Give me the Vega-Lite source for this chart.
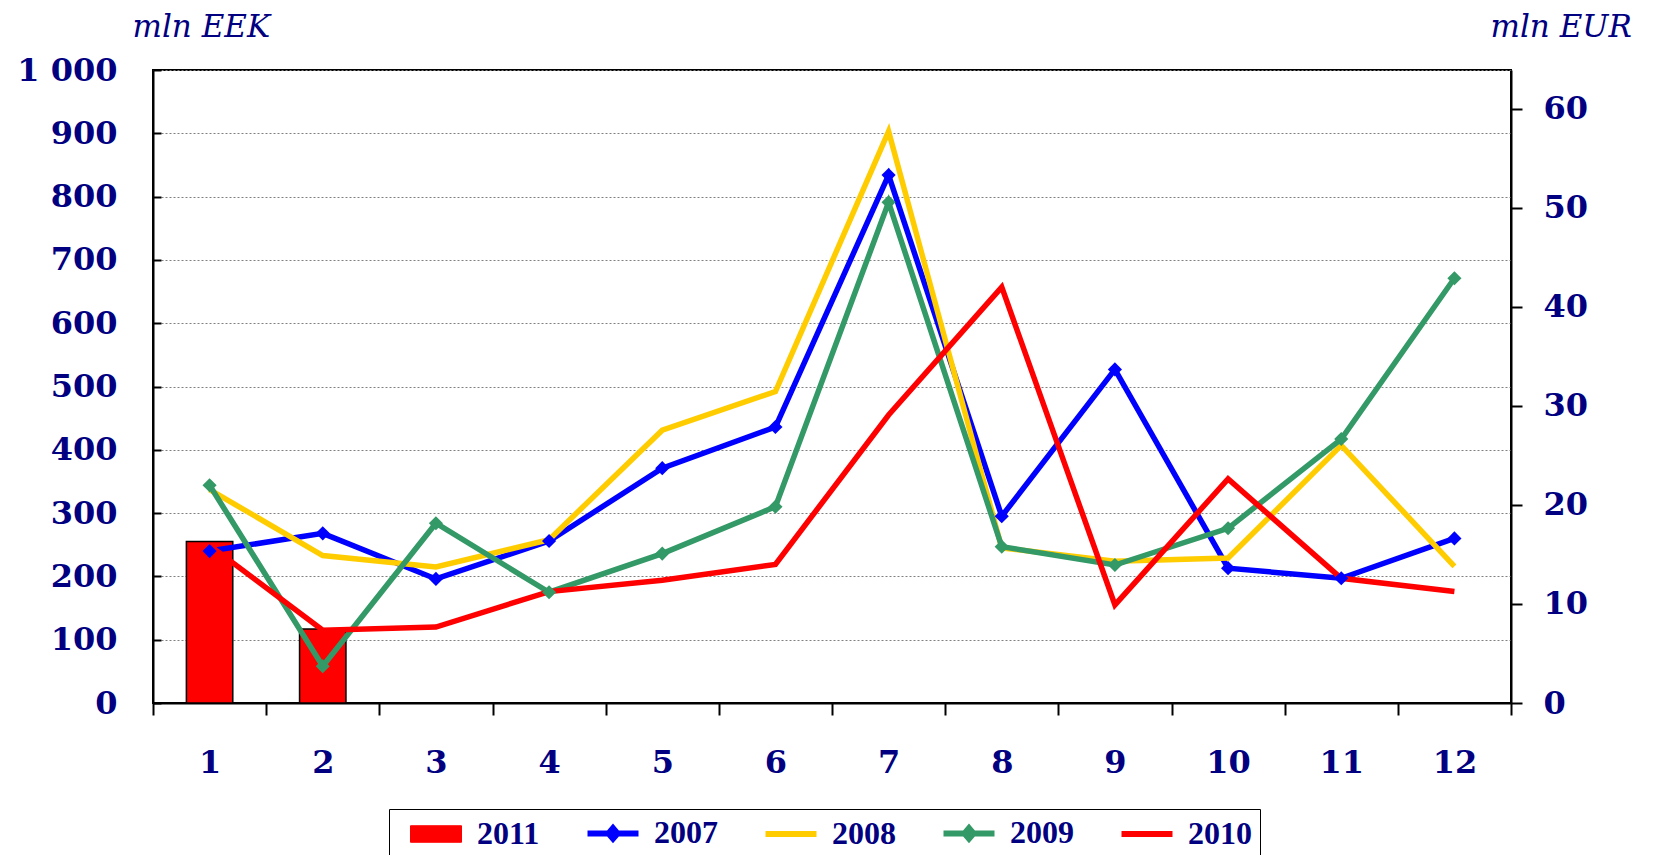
{
  "$schema": "https://vega.github.io/schema/vega-lite/v6.json",
  "autosize": {"type": "none"},
  "width": 1358,
  "height": 633,
  "padding": {"left": 153, "top": 70, "right": 143, "bottom": 152},
  "background": "white",
  "config": {
    "view": {"stroke": "#000000", "strokeWidth": 2},
    "axis": {
      "labelFont": "DejaVu Serif",
      "labelFontWeight": "bold",
      "labelColor": "#000080",
      "labelFontSize": 32,
      "domainColor": "#000000",
      "domainWidth": 2,
      "tickColor": "#000000",
      "tickWidth": 2
    }
  },
  "datasets": {
    "lines": [
      {"month": 1, "year": "2007", "value": 240},
      {"month": 2, "year": "2007", "value": 268},
      {"month": 3, "year": "2007", "value": 196},
      {"month": 4, "year": "2007", "value": 256},
      {"month": 5, "year": "2007", "value": 371},
      {"month": 6, "year": "2007", "value": 436},
      {"month": 7, "year": "2007", "value": 834},
      {"month": 8, "year": "2007", "value": 295},
      {"month": 9, "year": "2007", "value": 527},
      {"month": 10, "year": "2007", "value": 213},
      {"month": 11, "year": "2007", "value": 197},
      {"month": 12, "year": "2007", "value": 260},
      {"month": 1, "year": "2008", "value": 337},
      {"month": 2, "year": "2008", "value": 233},
      {"month": 3, "year": "2008", "value": 215},
      {"month": 4, "year": "2008", "value": 258},
      {"month": 5, "year": "2008", "value": 431},
      {"month": 6, "year": "2008", "value": 492},
      {"month": 7, "year": "2008", "value": 903},
      {"month": 8, "year": "2008", "value": 245},
      {"month": 9, "year": "2008", "value": 224},
      {"month": 10, "year": "2008", "value": 229},
      {"month": 11, "year": "2008", "value": 407},
      {"month": 12, "year": "2008", "value": 216},
      {"month": 1, "year": "2009", "value": 344},
      {"month": 2, "year": "2009", "value": 58},
      {"month": 3, "year": "2009", "value": 284},
      {"month": 4, "year": "2009", "value": 175},
      {"month": 5, "year": "2009", "value": 236},
      {"month": 6, "year": "2009", "value": 310},
      {"month": 7, "year": "2009", "value": 791},
      {"month": 8, "year": "2009", "value": 247},
      {"month": 9, "year": "2009", "value": 218},
      {"month": 10, "year": "2009", "value": 276},
      {"month": 11, "year": "2009", "value": 417},
      {"month": 12, "year": "2009", "value": 671},
      {"month": 1, "year": "2010", "value": 249},
      {"month": 2, "year": "2010", "value": 115},
      {"month": 3, "year": "2010", "value": 120},
      {"month": 4, "year": "2010", "value": 176},
      {"month": 5, "year": "2010", "value": 194},
      {"month": 6, "year": "2010", "value": 219},
      {"month": 7, "year": "2010", "value": 455},
      {"month": 8, "year": "2010", "value": 657},
      {"month": 9, "year": "2010", "value": 155},
      {"month": 10, "year": "2010", "value": 354},
      {"month": 11, "year": "2010", "value": 197},
      {"month": 12, "year": "2010", "value": 176}
    ],
    "bars": [
      {"month": 1, "year": "2011", "value": 255},
      {"month": 2, "year": "2011", "value": 117}
    ]
  },
  "layer": [
    {
      "layer": [
        {
          "data": {"name": "bars"},
          "mark": {"type": "bar", "width": {"band": 0.41}, "stroke": "#000000", "strokeWidth": 1.5},
          "encoding": {
            "x": {
              "field": "month", "type": "ordinal",
              "scale": {"domain": [1,2,3,4,5,6,7,8,9,10,11,12], "paddingInner": 0, "paddingOuter": 0},
              "axis": {"orient": "bottom", "title": null, "labelAngle": 0, "tickBand": "extent", "tickSize": 12, "labelPadding": 32, "grid": false}
            },
            "y": {
              "field": "value", "type": "quantitative",
              "scale": {"domain": [0, 1000], "nice": false},
              "axis": {
                "orient": "left",
                "values": [0,100,200,300,400,500,600,700,800,900,1000],
                "labelExpr": "datum.value >= 1000 ? '1 000' : datum.value + ''",
                "grid": true, "gridColor": "#808080", "gridDash": [2, 2], "gridWidth": 1,
                "tickSize": -8, "labelPadding": 44,
                "title": "mln EEK", "titleAngle": 0, "titleAlign": "left", "titleBaseline": "alphabetic",
                "titleX": -21, "titleY": -34,
                "titleFont": "DejaVu Serif", "titleFontStyle": "italic", "titleFontWeight": "normal",
                "titleFontSize": 31, "titleColor": "#000080"
              }
            },
            "color": {
              "field": "year", "type": "nominal",
              "scale": {"domain": ["2011","2007","2008","2009","2010"], "range": ["#FF0000","#0000FF","#FFCC00","#339966","#FF0000"]},
              "legend": {
                "title": null, "orient": "none", "legendX": 236, "legendY": 739, "direction": "horizontal",
                "strokeColor": "#000000", "fillColor": "#FFFFFF", "padding": 8,
                "labelFont": "Liberation Serif", "labelFontWeight": "bold", "labelFontSize": 32, "labelColor": "#000080",
                "symbolSize": 900, "symbolOffset": 23, "labelOffset": 25, "columnPadding": 34,
                "symbolType": {"expr": "datum.value === '2011' ? 'M-1.7,-0.55H1.7V0.55H-1.7Z' : (datum.value === '2007' || datum.value === '2009') ? 'M-1.7,0H1.7M0,-0.35L0.3,0L0,0.35L-0.3,0Z' : 'M-1.7,0H1.7'"},
                "symbolStrokeWidth": {"expr": "datum.value === '2011' ? 1 : 6"},
                "symbolOpacity": 1
              }
            }
          }
        },
        {
          "data": {"name": "lines"},
          "mark": {"type": "line", "strokeWidth": 5.5},
          "encoding": {
            "x": {"field": "month", "type": "ordinal", "bandPosition": 0.5},
            "y": {"field": "value", "type": "quantitative"},
            "color": {"field": "year", "type": "nominal"}
          }
        },
        {
          "data": {"name": "lines"},
          "transform": [{"filter": "datum.year === '2007' || datum.year === '2009'"}],
          "mark": {"type": "point", "shape": "diamond", "filled": true, "size": 200, "opacity": 1},
          "encoding": {
            "x": {"field": "month", "type": "ordinal", "bandPosition": 0.5},
            "y": {"field": "value", "type": "quantitative"},
            "color": {"field": "year", "type": "nominal"}
          }
        }
      ]
    },
    {
      "data": {"name": "bars"},
      "mark": {"type": "rule", "strokeOpacity": 0},
      "encoding": {
        "y": {
          "datum": 0, "type": "quantitative",
          "scale": {"domain": [0, 63.91], "nice": false},
          "axis": {
            "orient": "right", "values": [0,10,20,30,40,50,60], "grid": false,
            "tickSize": 11, "labelPadding": 21,
            "title": "mln EUR", "titleAngle": 0, "titleAlign": "left", "titleBaseline": "alphabetic",
            "titleX": -21, "titleY": -34,
            "titleFont": "DejaVu Serif", "titleFontStyle": "italic", "titleFontWeight": "normal",
            "titleFontSize": 31, "titleColor": "#000080"
          }
        }
      }
    }
  ],
  "resolve": {"scale": {"y": "independent"}}
}
